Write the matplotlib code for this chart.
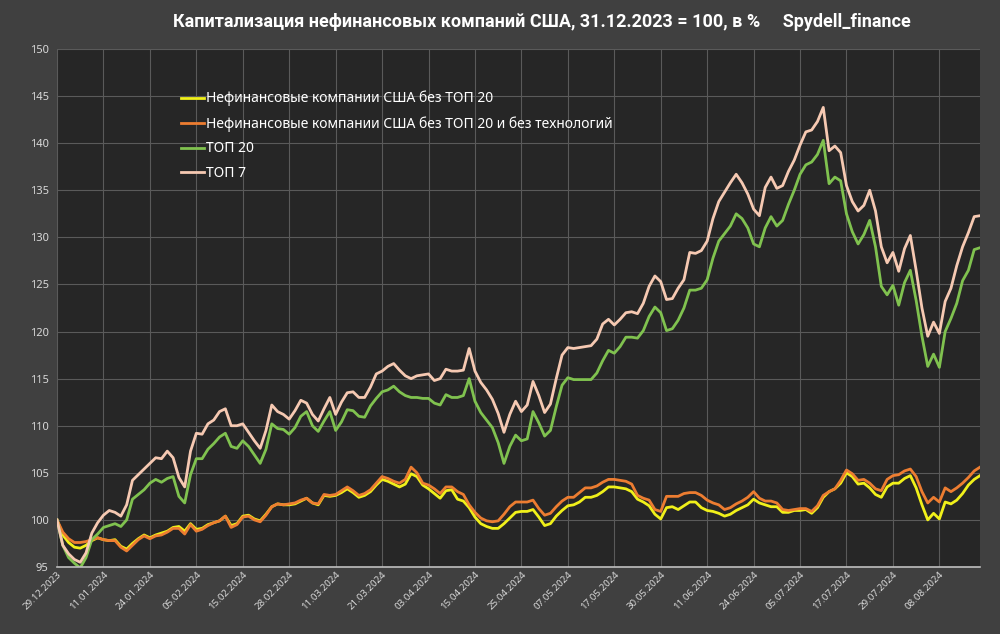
# Капитализация нефинансовых компаний США, 31.12.2023 = 100
import numpy as np
import matplotlib.pyplot as plt
from matplotlib.transforms import ScaledTranslation

# tick labels every 8 trading days
date_labels = ['29.12.2023', '11.01.2024', '24.01.2024', '05.02.2024', '15.02.2024',
               '28.02.2024', '11.03.2024', '21.03.2024', '03.04.2024', '15.04.2024',
               '25.04.2024', '07.05.2024', '17.05.2024', '30.05.2024', '11.06.2024',
               '24.06.2024', '05.07.2024', '17.07.2024', '29.07.2024', '08.08.2024']
label_step = 8

# Нефинансовые компании США без ТОП 20
ex_top20 = [100.0, 98.4, 97.6, 97.1, 97.0, 97.3, 97.8, 98.1, 97.9, 97.8,
            97.9, 97.2, 96.9, 97.5, 98.0, 98.4, 98.1, 98.4, 98.6, 98.8,
            99.2, 99.3, 98.8, 99.6, 99.0, 99.1, 99.5, 99.7, 99.9, 100.4,
            99.4, 99.6, 100.4, 100.5, 100.1, 99.9, 100.6, 101.4, 101.7, 101.6,
            101.6, 101.7, 102.0, 102.3, 101.8, 101.6, 102.6, 102.5, 102.6, 102.9,
            103.3, 102.9, 102.4, 102.6, 103.0, 103.7, 104.3, 104.1, 103.8, 103.5,
            103.8, 104.9, 104.6, 103.7, 103.3, 102.8, 102.3, 103.1, 103.2, 102.2,
            102.0, 101.3, 100.3, 99.6, 99.3, 99.1, 99.1, 99.6, 100.2, 100.8,
            100.9, 100.9, 101.1, 100.3, 99.4, 99.6, 100.4, 101.0, 101.5, 101.6,
            101.9, 102.4, 102.4, 102.6, 103.0, 103.5, 103.5, 103.4, 103.3, 103.0,
            102.2, 101.9, 101.5, 100.6, 100.1, 101.3, 101.4, 101.1, 101.5, 101.9,
            101.9, 101.3, 101.0, 100.9, 100.7, 100.4, 100.6, 101.0, 101.3, 101.6,
            102.2, 101.8, 101.6, 101.4, 101.4, 100.8, 100.8, 101.0, 101.0, 101.1,
            100.7, 101.3, 102.4, 103.0, 103.3, 103.9, 105.0, 104.6, 103.8, 103.9,
            103.4, 102.7, 102.4, 103.5, 103.9, 103.9, 104.4, 104.7, 103.4, 101.6,
            100.0, 100.7, 100.1, 101.9, 101.7, 102.1, 102.8, 103.7, 104.3, 104.7]

# Нефинансовые компании США без ТОП 20 и без технологий
ex_top20_tech = [100.0, 98.7, 98.0, 97.6, 97.6, 97.7, 97.9, 98.1, 97.9, 97.8,
                 97.8, 97.1, 96.7, 97.3, 97.9, 98.3, 98.0, 98.3, 98.4, 98.7,
                 99.1, 99.1, 98.5, 99.5, 98.8, 99.0, 99.4, 99.7, 99.9, 100.4,
                 99.2, 99.5, 100.3, 100.4, 100.0, 99.8, 100.5, 101.4, 101.7, 101.6,
                 101.7, 101.8, 102.1, 102.3, 101.8, 101.7, 102.7, 102.6, 102.7, 103.1,
                 103.5, 103.1, 102.6, 102.8, 103.2, 103.9, 104.6, 104.4, 104.1, 103.9,
                 104.3, 105.6, 105.0, 103.9, 103.7, 103.3, 102.8, 103.5, 103.5, 103.0,
                 102.7, 101.6, 100.8, 100.2, 99.9, 99.8, 99.9, 100.6, 101.4, 101.9,
                 101.9, 101.9, 102.1, 101.2, 100.5, 100.7, 101.4, 102.0, 102.4, 102.4,
                 102.9, 103.4, 103.4, 103.6, 104.0, 104.3, 104.3, 104.2, 104.1, 103.8,
                 102.6, 102.3, 102.1, 101.1, 100.9, 102.5, 102.5, 102.5, 102.8, 102.9,
                 102.9, 102.6, 102.1, 101.8, 101.6, 101.1, 101.3, 101.7, 102.0, 102.4,
                 103.0, 102.3, 102.0, 102.0, 101.8, 101.1, 101.0, 101.1, 101.2, 101.2,
                 100.9, 101.5, 102.6, 103.0, 103.3, 104.2, 105.3, 104.9, 104.2, 104.3,
                 103.9, 103.3, 103.1, 104.3, 104.7, 104.8, 105.2, 105.4, 104.6, 103.0,
                 101.8, 102.4, 101.9, 103.4, 103.0, 103.4, 103.9, 104.5, 105.2, 105.6]

# ТОП 20
top20 = [100.0, 97.3, 96.0, 95.4, 94.9, 96.0, 97.9, 98.5, 99.2, 99.4,
         99.6, 99.3, 100.0, 102.2, 102.7, 103.2, 103.9, 104.3, 104.0, 104.4,
         104.6, 102.5, 101.8, 104.8, 106.5, 106.5, 107.5, 108.1, 108.8, 109.2,
         107.8, 107.6, 108.4, 107.8, 106.9, 106.0, 107.5, 110.2, 109.7, 109.6,
         109.1, 109.8, 111.0, 111.5, 110.0, 109.4, 110.5, 111.5, 109.5, 110.4,
         111.7, 111.6, 111.0, 110.9, 112.1, 112.9, 113.6, 113.8, 114.2, 113.6,
         113.2, 113.0, 113.0, 112.9, 112.9, 112.4, 112.2, 113.3, 113.0, 113.0,
         113.2, 115.0, 112.6, 111.4, 110.6, 109.8, 108.2, 106.0, 107.8, 109.0,
         108.4, 108.6, 111.5, 110.3, 108.9, 109.5, 112.0, 114.3, 115.1, 114.9,
         114.9, 114.9, 114.9, 115.6, 116.9, 118.0, 117.7, 118.4, 119.4, 119.4,
         119.3, 120.1, 121.6, 122.6, 122.0, 120.1, 120.3, 121.2, 122.5, 124.4,
         124.4, 124.6, 125.5, 127.8, 129.6, 130.4, 131.2, 132.5, 132.0, 131.0,
         129.3, 129.0, 131.0, 132.2, 131.2, 131.8, 133.5, 135.0, 136.7, 137.7,
         138.0, 138.8, 140.3, 135.7, 136.4, 136.0, 132.5, 130.6, 129.3, 130.3,
         131.8, 129.0, 124.8, 123.9, 124.9, 122.8, 125.2, 126.5, 123.3, 119.5,
         116.3, 117.6, 116.2, 120.0, 121.4, 123.0, 125.4, 126.5, 128.7, 128.9]

# ТОП 7
top7 = [100.0, 97.3, 96.4, 95.8, 95.5, 96.5, 98.6, 99.7, 100.5, 101.0,
        100.8, 100.4, 101.6, 104.2, 104.8, 105.4, 106.0, 106.6, 106.5, 107.3,
        106.6, 104.5, 103.5, 107.3, 109.2, 109.1, 110.2, 110.6, 111.5, 111.8,
        110.0, 110.0, 110.2, 109.3, 108.4, 107.6, 109.5, 112.2, 111.5, 111.2,
        110.7, 111.6, 112.7, 112.4, 111.2, 110.5, 111.8, 113.0, 111.2, 112.5,
        113.5, 113.6, 113.0, 113.0, 114.1, 115.5, 115.8, 116.3, 116.6, 115.9,
        115.3, 115.0, 115.3, 115.4, 115.5, 114.8, 115.0, 116.0, 115.8, 115.8,
        115.9, 118.2, 115.8, 114.6, 113.8, 112.8, 111.3, 109.3, 111.2, 112.6,
        111.5, 112.2, 114.7, 113.2, 111.4, 112.3, 115.0, 117.5, 118.3, 118.2,
        118.3, 118.4, 118.5, 119.2, 120.8, 121.3, 120.7, 121.3, 122.0, 122.1,
        121.9, 123.0, 124.8, 125.9, 125.3, 123.4, 123.5, 124.6, 125.5, 128.4,
        128.3, 128.6, 129.6, 132.0, 133.8, 134.8, 135.8, 136.7, 135.8, 134.6,
        133.0, 132.3, 135.3, 136.4, 135.2, 135.5, 137.0, 138.2, 139.8, 141.2,
        141.4, 142.3, 143.8, 139.2, 139.7, 139.0, 135.5, 133.8, 132.8, 133.4,
        135.0, 132.8, 129.0, 127.3, 128.4, 126.4, 128.8, 130.2, 126.5, 122.5,
        119.5, 121.0, 119.8, 123.2, 124.6, 127.0, 129.0, 130.5, 132.2, 132.3]

series_names = ['Нефинансовые компании США без ТОП 20',
                'Нефинансовые компании США без ТОП 20 и без технологий',
                'ТОП 20', 'ТОП 7']
series_colors = ['#f0f01a', '#ed7d31', '#80c24f', '#f6c9b2']

plt.rcParams['font.family'] = ['Noto Sans', 'DejaVu Sans']

fig = plt.figure(figsize=(10, 6.34), dpi=100, facecolor='#404040')
ax = fig.add_axes([0.057, 0.1057, 0.923, 0.817])
ax.set_facecolor('#262626')
ax.set_axisbelow(True)

days = np.arange(len(top7))
for vals, name, col in zip([ex_top20, ex_top20_tech, top20, top7], series_names, series_colors):
    ax.plot(days, vals, color=col, lw=2, label=name, solid_joinstyle='round')

ax.set_xlim(0, len(top7) - 1)
ax.set_ylim(95, 150)
ax.set_yticks(range(95, 151, 5))
ax.set_xticks(np.arange(len(date_labels)) * label_step)
ax.set_xticklabels(date_labels, rotation=45, ha='right', va='top',
                   rotation_mode='anchor', fontsize=7, color='#d9d9d9')
offset = ScaledTranslation(6 / 72, 0, fig.dpi_scale_trans)
for lab in ax.get_xticklabels():
    lab.set_transform(lab.get_transform() + offset)

ax.tick_params(axis='both', length=0)
ax.tick_params(axis='y', labelsize=8, labelcolor='#d9d9d9', pad=6)
ax.tick_params(axis='x', pad=2)
ax.grid(color='#5a5a5a', lw=0.8)
for s in ['top', 'right', 'left']:
    ax.spines[s].set_visible(False)
ax.spines['bottom'].set_color('#bfbfbf')
ax.spines['bottom'].set_linewidth(1.2)

leg = ax.legend(loc='upper left', bbox_to_anchor=(0.128, 0.93), frameon=False,
                fontsize=10, handlelength=1.7, handletextpad=0.1, labelspacing=0.7,
                borderaxespad=0)
for t in leg.get_texts():
    t.set_color('white')

fig.text(0.542, 0.965, 'Капитализация нефинансовых компаний США, 31.12.2023 = 100, в %     Spydell_finance',
         ha='center', va='center', color='white', fontsize=13, fontweight='bold',
         family=['Roboto', 'DejaVu Sans'])

fig.savefig('out.png', dpi=100, facecolor=fig.get_facecolor())
